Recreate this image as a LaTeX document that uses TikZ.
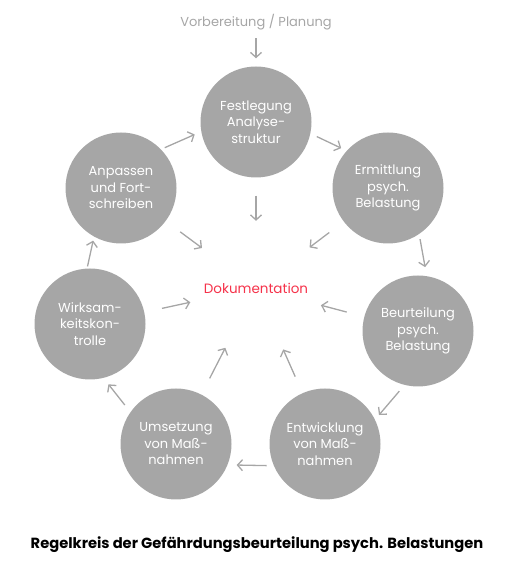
\documentclass[tikz,border=0pt]{standalone}
\usepackage{fontspec}
\setmainfont{Poppins}
\usetikzlibrary{arrows.meta}
\definecolor{kreisgrau}{HTML}{A6A6A6}
\definecolor{dokurot}{HTML}{F5324A}

\begin{document}
\begin{tikzpicture}[x=1pt, y=1pt,
  kreis/.style={circle, fill=kreisgrau, minimum size=111pt, inner sep=0pt,
    text=white, align=center, font=\fontsize{13}{16.5}\selectfont},
  pfeil/.style={draw=kreisgrau, line width=1.3pt,
    -{Straight Barb[length=5pt,width=11pt]}, shorten <=6pt, shorten >=6pt},
  innen/.style={pfeil, shorten <=18pt, shorten >=12pt}]
  % Rahmen
  \useasboundingbox (0,0) rectangle (514,564);
  % Kreise
  \node[kreis] (fest) at (256,442) {Festlegung\\Analyse-\\struktur};
  \node[kreis] (erm)  at (388,376) {Ermittlung\\psych.\\Belastung};
  \node[kreis] (beu)  at (418,233) {Beurteilung\\psych.\\Belastung};
  \node[kreis] (ent)  at (325,120) {Entwicklung\\von Maß-\\nahmen};
  \node[kreis] (ums)  at (176,120) {Umsetzung\\von Maß-\\nahmen};
  \node[kreis] (wirk) at (90,240)  {Wirksam-\\keitskon-\\trolle};
  \node[kreis] (anp)  at (121,376) {Anpassen\\und Fort-\\schreiben};
  % Mitte, Start, Titel
  \node[circle, minimum size=110pt, inner sep=0pt, text=dokurot,
    font=\fontsize{13.5}{16}\selectfont] (doku) at (256,276) {Dokumentation};
  \node[text=kreisgrau, font=\fontsize{13}{16}\selectfont] (vorb) at (256,542) {Vorbereitung / Planung};
  \node[font=\bfseries\fontsize{14.7}{16}\selectfont] (titel) at (257,19)
    {Regelkreis der Gefährdungsbeurteilung psych. Belastungen};
  % Pfeile im Kreis
  \draw[pfeil, shorten <=5pt, shorten >=8pt] (vorb) -- (fest);
  \draw[pfeil, shorten <=4pt, shorten >=7pt] (anp.44) -- (fest.190);
  \draw[pfeil, shorten <=7pt, shorten >=6pt] (fest.-12) -- (erm.138);
  \draw[pfeil, shorten <=5pt, shorten >=9pt] (erm.-56) -- (beu.81);
  \draw[pfeil, shorten <=8pt, shorten >=6pt] (beu.256) -- (ent.26);
  \draw[pfeil, shorten <=7pt, shorten >=9pt] (ent.203) -- (ums.-22);
  \draw[pfeil, shorten <=9pt, shorten >=8pt] (ums.145) -- (wirk.-76);
  \draw[pfeil, shorten <=2pt, shorten >=4pt] (wirk.93) -- (anp.241);
  % Pfeile zur Dokumentation
  \foreach \k in {fest,erm,beu,ent,ums,wirk,anp}
    \draw[innen] (\k) -- (doku);
\end{tikzpicture}
\end{document}
